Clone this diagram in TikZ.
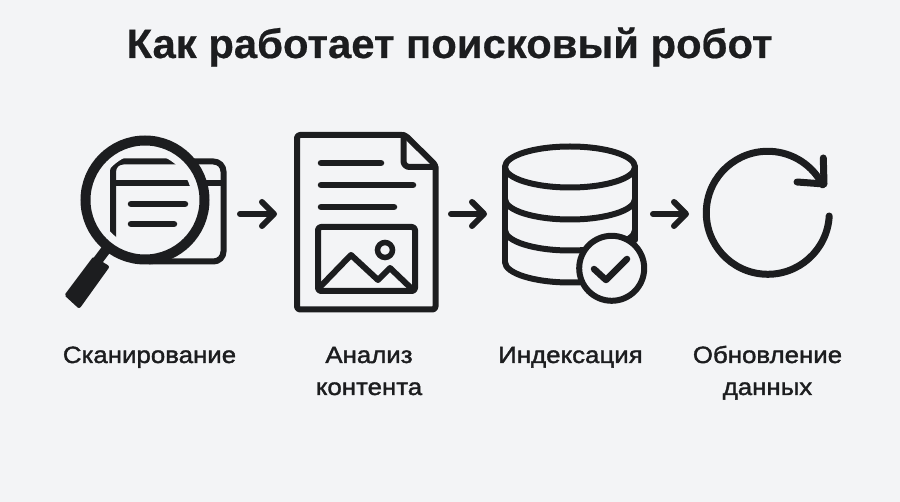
\documentclass[tikz,border=0pt]{standalone}
\usepackage{fontspec}
\setmainfont{Liberation Sans}
\newfontfamily\titlefont[FakeStretch=1.02,FakeBold=0.5]{Liberation Sans Bold}
\newfontfamily\labelfont[FakeStretch=1.1,FakeBold=1.6]{Liberation Sans}
\usetikzlibrary{arrows.meta}
\definecolor{ink}{HTML}{1C1D1F}
\definecolor{paper}{HTML}{F3F4F6}
\tikzset{
  x=1pt,y=1pt,
  icon/.style={draw=ink,line width=6pt,line join=round,line cap=round},
  thick bar/.style={draw=ink,line width=6.5pt,line cap=round},
  flow/.style={draw=ink,line width=6pt,line cap=round,line join=round,
    -{Straight Barb[round,length=12pt,width=24pt]}},
  caption/.style={font=\labelfont\fontsize{23.5}{23.5}\selectfont,text=ink,anchor=base,inner sep=0pt},
  heading/.style={font=\titlefont\fontsize{41}{41}\selectfont,text=ink,anchor=base,inner sep=0pt}
}
\begin{document}
\begin{tikzpicture}
\fill[paper] (0,0) rectangle (900,-502);
\useasboundingbox (0,0) rectangle (900,-502);
\node[heading] (title) at (449.5,-58) {Как работает поисковый робот};
% scanner
\draw[icon,rounded corners=10pt] (113,-238) -- (113,-161.5) -- (223.5,-161.5) -- (223.5,-261.5) -- (150,-261.5);
\draw[icon,line cap=butt] (113,-183) -- (223.5,-183);
\draw[paper,line width=12pt] (145,-200) circle[radius=53];
\draw[thick bar] (131,-204) -- (185,-204);
\draw[thick bar] (131,-224) -- (174,-224);
\draw[ink,line width=10pt] (145,-200) circle[radius=59.5];
\draw[ink,line width=10pt] (108,-247) -- (96,-263);
\fill[ink,draw=ink,line width=4pt,line join=round] (94,-259) -- (107,-267) -- (79,-306) -- (67,-295) -- cycle;
% document
\draw[icon,rounded corners=3pt] (297,-135) -- (405,-135) -- (435.5,-165) -- (435.5,-309.5) -- (297,-309.5) -- cycle;
\draw[icon,rounded corners=6pt] (403.5,-135) -- (403.5,-167) -- (435.5,-167);
\draw[thick bar] (321,-163) -- (381,-163);
\draw[thick bar] (321,-185) -- (413,-185);
\draw[thick bar] (321,-207) -- (394,-207);
\draw[icon,rounded corners=3pt] (318,-227) rectangle (415,-291);
\draw[icon] (320,-287) -- (351,-255) -- (378,-280) -- (390,-268) -- (413,-290);
\draw[ink,line width=5.5pt] (385,-250) circle[radius=7.5];
% database
\draw[icon] (505,-167) -- (505,-262);
\draw[icon] (635,-167) -- (635,-240);
\draw[icon] (570,-167) ellipse[x radius=65,y radius=20.5];
\draw[icon] (505,-199) arc[start angle=180,end angle=360,x radius=65,y radius=20.5];
\draw[icon] (505,-230) arc[start angle=180,end angle=360,x radius=65,y radius=20.5];
\draw[icon] (505,-262) arc[start angle=180,end angle=360,x radius=65,y radius=20.5];
\draw[icon,fill=paper] (611.7,-268.3) circle[radius=32.5];
\draw[thick bar,line join=round] (594,-269) -- (606,-280) -- (627,-259);
% refresh
\draw[ink,line width=7pt,line cap=round] (829.2,-216) arc[start angle=-3,end angle=-333,radius=61.5];
\draw[ink,line width=7pt,line cap=round,line join=round] (823.3,-158) -- (824,-184) -- (797,-182);
% connectors
\coordinate (a1s) at (240,-214); \coordinate (a1e) at (277,-214);
\coordinate (a2s) at (451,-214); \coordinate (a2e) at (487,-214);
\coordinate (a3s) at (653,-214); \coordinate (a3e) at (689,-214);
\draw[flow] (a1s) -- (a1e);
\draw[flow] (a2s) -- (a2e);
\draw[flow] (a3s) -- (a3e);
% captions
\node[caption] (c1) at (149.5,-363) {Сканирование};
\node[caption] (c2) at (369,-363) {Анализ};
\node[caption] (c2b) at (369,-395) {контента};
\node[caption] (c3) at (570.5,-363) {Индексация};
\node[caption] (c4) at (767.5,-363) {Обновление};
\node[caption] (c4b) at (767.5,-395) {данных};
\end{tikzpicture}
\end{document}
